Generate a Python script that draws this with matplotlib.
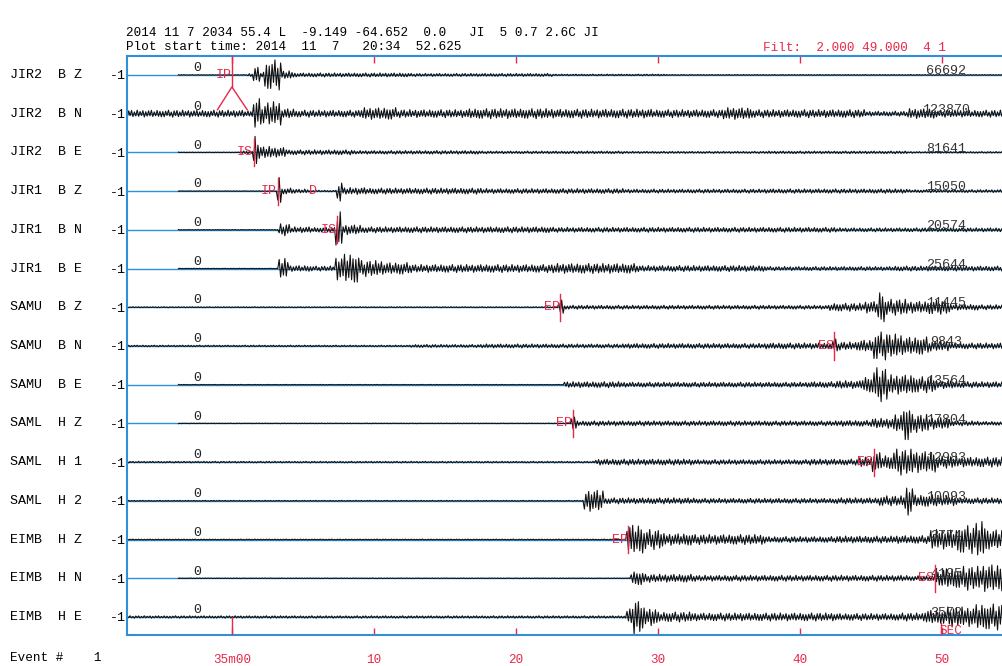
import matplotlib.pyplot as plt
import numpy as np

plt.rcParams['font.family'] = ['Liberation Mono', 'DejaVu Sans Mono']

# station / component for each trace (top to bottom)
stations = ['JIR2', 'JIR2', 'JIR2', 'JIR1', 'JIR1', 'JIR1', 'SAMU', 'SAMU', 'SAMU',
            'SAML', 'SAML', 'SAML', 'EIMB', 'EIMB', 'EIMB']
components = ['B Z', 'B N', 'B E', 'B Z', 'B N', 'B E', 'B Z', 'B N', 'B E',
              'H Z', 'H 1', 'H 2', 'H Z', 'H N', 'H E']
peak_counts = ['66692', '123870', '81641', '15050', '20574', '25644', '11445', '9843',
               '13564', '17804', '12983', '10093', '3774', '4195', '3572']

# envelope of each trace: (seconds after plot start, half amplitude in px),
# value holds until the next breakpoint
envelopes = [
    [(3.6, 0.3), (8.5, 1.5), (8.9, 8), (9.4, 3), (9.7, 15), (10.9, 4), (11.8, 2), (20, 1.5), (30, 0.8), (38, 0.4)],
    [(0, 3.5), (8.4, 3), (8.9, 15), (9.5, 9), (9.9, 12), (10.9, 5), (11.8, 3.5), (16.5, 6), (19, 4), (24, 5),
     (30, 4.5), (37, 4), (42, 6), (44, 4), (52, 2.5), (55, 5), (57, 3.5)],
    [(3.6, 0.3), (8.0, 1.5), (8.9, 16), (9.3, 6), (10.4, 5), (11.3, 2.5), (16, 1.8), (25, 1.3), (35, 1), (45, 1.3), (55, 0.8)],
    [(3.6, 0.3), (10.6, 15), (10.9, 3), (11.8, 2), (12.9, 0.8), (14.8, 10), (15.2, 3.5), (17, 3), (25, 2.5), (35, 2),
     (45, 2.2), (55, 1.5)],
    [(3.6, 0.3), (10.7, 6), (11.5, 3), (13, 2.5), (14.7, 18), (15.2, 5), (16.5, 3), (20, 3), (30, 2.5), (40, 2.5),
     (50, 2), (56, 2)],
    [(3.6, 0.3), (10.7, 10), (11.4, 3), (13, 2.5), (14.7, 12), (15.3, 15), (16.4, 8), (18, 6), (20, 4), (25, 4),
     (30, 5), (36, 3), (45, 2), (54, 2.5)],
    [(0, 0.5), (30.4, 8), (30.8, 2), (40, 2), (49.5, 4), (52, 6), (52.9, 16), (53.4, 8), (55, 6), (56.5, 7), (58, 3), (60, 2.5)],
    [(0, 0.8), (20, 1.5), (25, 2), (35, 2.5), (45, 3), (49.7, 7), (50.1, 4), (51.5, 6), (52.6, 14), (53.6, 12),
     (54.6, 9), (56.5, 5), (58, 3)],
    [(3.6, 0.3), (30.8, 3), (35, 2.5), (48, 3), (50, 4), (51.8, 8), (52.6, 17), (53.6, 10), (55.5, 8), (57, 4), (58.5, 3)],
    [(3.6, 0.3), (31.3, 8), (31.7, 2.5), (40, 2.5), (50, 3), (52.5, 5), (54.0, 9), (54.7, 18), (55.3, 9), (56.5, 6),
     (58, 2.5), (60, 2)],
    [(0, 0.8), (33, 3), (40, 2.5), (48, 3), (51.5, 5), (52.5, 10), (53.1, 7), (54, 13), (55.5, 11), (57, 6), (58.5, 5)],
    [(0, 0.5), (32.2, 11), (33.6, 3), (40, 2.5), (50, 3), (53, 5), (54.8, 15), (55.4, 6), (57, 5), (58.5, 3)],
    [(0, 0.5), (35.2, 15), (36.4, 10), (37.8, 6), (40, 5), (45, 3), (50, 3.5), (54, 4), (56.6, 10), (58.5, 14),
     (59.8, 18), (60.6, 10)],
    [(3.6, 0.3), (35.5, 7), (36.5, 4), (40, 3), (50, 3), (55, 2.5), (56.9, 7), (57.4, 10), (58.8, 12), (60.3, 14)],
    [(0, 1.2), (35.2, 8), (35.6, 17), (36.4, 9), (37.4, 5), (40, 4), (50, 3.5), (54.5, 4), (56.2, 7), (57.8, 10), (59.8, 13)],
]

# phase picks
pick_rows = [0, 2, 3, 3, 4, 6, 7, 9, 10, 12, 13, 14]
pick_times = [7.37, 8.9, 10.6, 13.4, 14.8, 30.5, 49.8, 31.4, 52.6, 35.3, 56.9, 57.3]
pick_labels = ['IP', 'IS', 'IP', 'D', 'IS', 'EP', 'ES', 'EP', 'ES', 'EP', 'ES', 'SEC']

# time axis (plot start 20:34:52.625)
tick_secs = [7.375, 17.375, 27.375, 37.375, 47.375, 57.375]
tick_labels = ['35m00', '10', '20', '30', '40', '50']

RED = '#e8284a'
BLUE = '#2f8fd8'
ROW_PX = 38.71
FS = 9.1
FS_ROW = 9.6
# fixed wiggle texture used to draw the traces (style only)
wiggle = [0.6, -0.9, 0.7, -0.5, 1.0, -0.7, 0.45, -1.0, 0.8, -0.55, 0.9, -0.85, 0.5, -0.65, 1.0, -0.75,
          0.6, -0.5, 0.85, -0.95, 0.55, -0.7, 0.8, -0.6, 0.95, -0.8, 0.5, -0.6, 0.9, -0.75, 0.65, -0.9]

fig = plt.figure(figsize=(10.03, 6.66), dpi=100)
ax = fig.add_axes([0.1269, 0.04655, 0.8804, 0.8694])
n = len(stations)
t_end = 62.2
ax.set_xlim(0, t_end)
ax.set_ylim(14.465, -0.49)

for i in range(n):
    ax.plot([0, t_end], [i, i], color=BLUE, lw=1.0, zorder=1)
    bt = np.array([p[0] for p in envelopes[i]])
    ba = np.array([p[1] for p in envelopes[i]])
    t = np.arange(bt[0], t_end, 1 / 10)
    amp = ba[np.searchsorted(bt, t, side='right') - 1]
    k = (np.arange(len(t)) + i * 7) % len(wiggle)
    y = i - amp / ROW_PX * np.array(wiggle)[k]
    ax.plot(t, y, color='#111111', lw=0.8, zorder=2)
    ax.text(4.93, i - 0.02, '0', ha='center', va='bottom', fontsize=FS_ROW, color='#222222', zorder=3)
    ax.text(57.7, i - 0.1, peak_counts[i], ha='center', va='center', fontsize=FS_ROW, color='#333333', zorder=3)
    ax.text(-0.133, i, f'{stations[i]}  {components[i]}', transform=ax.get_yaxis_transform(),
            ha='left', va='center', fontsize=FS_ROW)

# picks
for r, tp, lab in zip(pick_rows, pick_times, pick_labels):
    if lab == 'SEC':
        ax.text(tp - 0.1, r + 0.2, lab, ha='left', va='top', fontsize=FS, color=RED, zorder=4)
        ax.plot([tp, tp], [r + 0.15, 14.465], color=RED, lw=1, zorder=4)
        continue
    ax.text(tp - 0.05, r, lab, ha='right', va='center', fontsize=FS_ROW, color=RED, zorder=4)
    if lab == 'D':
        continue
    if r == 0:
        ax.plot([tp, tp], [-0.49, 0.31], color=RED, lw=1, zorder=4)
        ax.plot([6.35, tp, 8.45], [0.9, 0.31, 0.9], color=RED, lw=1, zorder=4)
    else:
        ax.plot([tp, tp], [r - 0.35, r + 0.35], color=RED, lw=1, zorder=4)

# time ticks
ax.set_xticks(tick_secs)
ax.set_xticklabels(tick_labels)
ax.tick_params(axis='x', direction='in', top=True, bottom=True, colors=RED, length=5,
               width=1, pad=14, labelsize=FS)
ax.plot([tick_secs[0], tick_secs[0]], [14, 14.465], color=RED, lw=1, zorder=4)
ax.set_yticks(range(n))
ax.set_yticklabels(['-1'] * n)
ax.tick_params(axis='y', length=0, pad=1, labelsize=FS_ROW)
for s in ax.spines.values():
    s.set_color(BLUE)
    s.set_linewidth(1.5)

fig.text(126 / 1003, 1 - 33 / 666,
         '2014 11 7 2034 55.4 L  -9.149 -64.652  0.0   JI  5 0.7 2.6C JI',
         ha='left', va='center', fontsize=FS)
fig.text(126 / 1003, 1 - 47 / 666, 'Plot start time: 2014  11  7   20:34  52.625',
         ha='left', va='center', fontsize=FS)
fig.text(763 / 1003, 1 - 48 / 666, 'Filt:  2.000 49.000  4 1',
         ha='left', va='center', fontsize=FS, color=RED)
fig.text(10 / 1003, 1 - 658 / 666, 'Event #    1', ha='left', va='center', fontsize=FS)

fig.savefig('out.png', dpi=100, facecolor='white')
